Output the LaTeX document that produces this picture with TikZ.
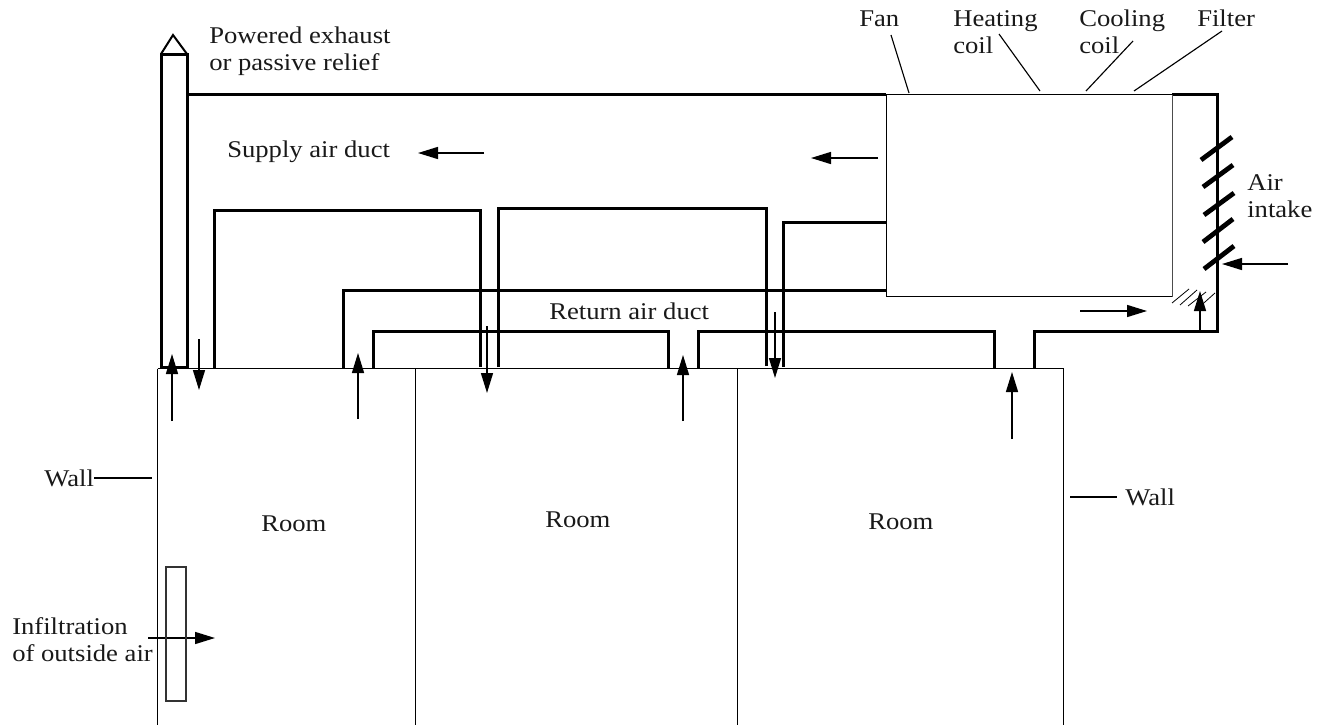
\documentclass[tikz,border=0pt]{standalone}
\usepackage{fontspec}
\setmainfont[FakeStretch=1.11]{Liberation Serif}
\usetikzlibrary{arrows.meta}
\tikzset{
  thickduct/.style={line width=2.25pt,line cap=butt,line join=miter},
  branch/.style={line width=2.25pt,line cap=butt,line join=miter},
  fine/.style={line width=0.85pt},
  thinbox/.style={line width=0.75pt},
  flow/.style={line width=1.1pt,-{Triangle[length=15pt,width=9pt]}},
  lbl/.style={inner sep=0pt,font=\fontsize{18}{20.25}\selectfont,align=left,text=black!90},
  damper/.style={line width=3.6pt},
  hatch/.style={line width=0.6pt}
}
\begin{document}
\begin{tikzpicture}[x=0.75pt,y=-0.75pt]
\useasboundingbox (0,0) rectangle (1325,725);
% free-end coordinates
\foreach \n/\x/\y in {
 wa/157.5/368.5, wb/415/368.5, wc/737/368.5, wd/1063/368.5,
 wae/157.5/725, wbe/415/725, wce/737/725, wde/1063/725,
 ca/161/367, cb/161/54, cc/187/54, cd/187/367, ct/173/35,
 sa/187/94.5, sb/886/94.5, sc/1172/94.5, sd/1217/94.5, se/1217/331, sf/1034/331, sg/1034/368,
 bl/886/296.5, br/1172/296.5,
 ra/994/368, rb/994/331, rc/698/331, rd/698/368,
 re/668/368, rf/668/331, rg/373/331, rh/373/368,
 ua/343/368, ub/343/290, uc/886/290,
 pa/214/368, pb/214/210, pc/480.5/210, pd/480.5/367,
 qa/498/367, qb/498/208.5, qc/766/208.5, qd/766/366,
 ta/783/367, tb/783/222, tc/886/222,
 d1a/1201/160, d1b/1232/137, d2a/1203/187, d2b/1233/165, d3a/1204/215, d3b/1234/193,
 d4a/1203/242, d4b/1233/219, d5a/1204/269, d5b/1234/246,
 h1a/1172/303, h1b/1189/289, h2a/1180/305, h2b/1197/290, h3a/1188/306, h3b/1206/292, h4a/1196/310, h4b/1215/293,
 a1a/172/421, a1b/172/354, a2a/199/339, a2b/199/390, a3a/358/419, a3b/358/353,
 a4a/487/326, a4b/487/393, a5a/683/421, a5b/683/355, a6a/775/312, a6b/775/378,
 a7a/1012/439, a7b/1012/372, a8a/484/153, a8b/418/153, a9a/878/158, a9b/811/158,
 a10a/1288/264, a10b/1222/264, a11a/1080/311, a11b/1147/311, a12a/1200/331, a12b/1200/291,
 a13a/148/638, a13b/215/638,
 fa/891/35, fb/909/93, ha/999/34, hb/1040/91, oa/1133/41, ob/1086/91, ia/1222/31, ib/1134/91,
 wl1/94/478, wl2/152/478, wr1/1070/497, wr2/1117/497}
 {\coordinate (\n) at (\x,\y);}
% rooms
\draw[thinbox] (wa) -- (wd) -- (wde);
\draw[thinbox] (wa) -- (wae);
\draw[thinbox] (wb) -- (wbe);
\draw[thinbox] (wc) -- (wce);
% chimney and supply duct
\draw[thickduct] (ca) -- (cb) -- (cc) -- (cd) -- cycle;
\draw[line width=1.5pt] (cb) -- (ct) -- (cc);
\draw[thickduct] (sa) -- (sb);
\draw[thickduct] (sc) -- (sd) -- (se) -- (sf) -- (sg);
\draw[thinbox] (sb) -- (sc);
\draw[thinbox,black!70] (sc) -- (br);
\draw[thinbox] (sb) -- (bl) -- (br);
% return duct
\draw[thickduct] (ra) -- (rb) -- (rc) -- (rd);
\draw[thickduct] (re) -- (rf) -- (rg) -- (rh);
\draw[branch] (ua) -- (ub) -- (uc);
% supply branches
\draw[branch] (pa) -- (pb) -- (pc) -- (pd);
\draw[branch] (qa) -- (qb) -- (qc) -- (qd);
\draw[branch] (ta) -- (tb) -- (tc);
% dampers
\foreach \i in {1,...,5} {\draw[damper] (d\i a) -- (d\i b);}
\foreach \i in {1,...,4} {\draw[hatch] (h\i a) -- (h\i b);}
% flow arrows
\foreach \i in {1,...,13} {\draw[flow] (a\i a) -- (a\i b);}
% infiltration opening
\node[draw,line width=0.8pt,black!80,minimum width=15pt,minimum height=100.5pt,inner sep=0pt] (gap) at (176,634) {};
% leaders
\draw[fine] (fa) -- (fb);
\draw[fine] (ha) -- (hb);
\draw[fine] (oa) -- (ob);
\draw[fine] (ia) -- (ib);
\draw[fine] (wl1) -- (wl2);
\draw[fine] (wr1) -- (wr2);
% labels (anchored on the last text baseline)
\node[lbl,anchor=base west] (t1) at (209,70) {Powered exhaust\\or passive relief};
\node[lbl,anchor=base west] (t2) at (227,157) {Supply air duct};
\node[lbl,anchor=base west] (t3) at (549,319) {Return air duct};
\node[lbl,anchor=base west] (t4) at (859,26) {Fan};
\node[lbl,anchor=base west] (t5) at (953,53) {Heating\\coil};
\node[lbl,anchor=base west] (t6) at (1079,53) {Cooling\\coil};
\node[lbl,anchor=base west] (t7) at (1197,26) {Filter};
\node[lbl,anchor=base west] (t8) at (1247,217) {Air\\intake};
\node[lbl,anchor=base west] (t9) at (44,486) {Wall};
\node[lbl,anchor=base west] (t10) at (1125,505) {Wall};
\node[lbl,anchor=base west] (t11) at (261,531) {Room};
\node[lbl,anchor=base west] (t12) at (545,527) {Room};
\node[lbl,anchor=base west] (t13) at (868,529) {Room};
\node[lbl,anchor=base west] (t14) at (12,661) {Infiltration\\of outside air};
\end{tikzpicture}
\end{document}
